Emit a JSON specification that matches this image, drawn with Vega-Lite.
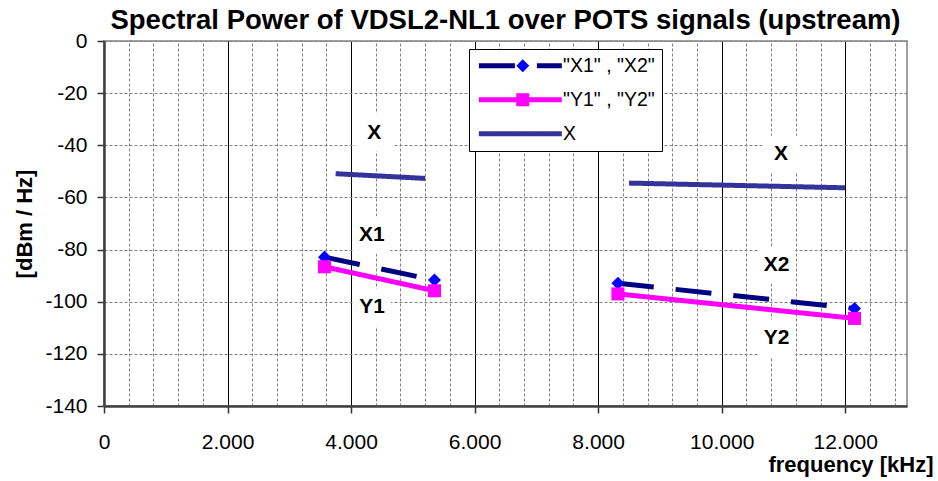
{
  "$schema": "https://vega.github.io/schema/vega-lite/v6.json",
  "width": 803,
  "height": 365,
  "autosize": {"type": "none"},
  "padding": {"left": 104, "top": 41, "right": 31, "bottom": 75},
  "background": "white",
  "title": {
    "text": "Spectral Power of VDSL2-NL1 over POTS signals (upstream)",
    "font": "Liberation Sans",
    "fontSize": 27.5,
    "fontWeight": "bold",
    "color": "black",
    "anchor": "middle",
    "frame": "group",
    "offset": -4
  },
  "datasets": {
    "lines": [
      {"series": "\"X1\" , \"X2\"", "seg": 1, "f": 3570, "p": -82.9},
      {"series": "\"X1\" , \"X2\"", "seg": 1, "f": 5350, "p": -91.7},
      {"series": "\"X1\" , \"X2\"", "seg": 2, "f": 8320, "p": -92.9},
      {"series": "\"X1\" , \"X2\"", "seg": 2, "f": 12150, "p": -102.6},
      {"series": "\"Y1\" , \"Y2\"", "seg": 1, "f": 3570, "p": -86.6},
      {"series": "\"Y1\" , \"Y2\"", "seg": 1, "f": 5350, "p": -95.8},
      {"series": "\"Y1\" , \"Y2\"", "seg": 2, "f": 8320, "p": -97.0},
      {"series": "\"Y1\" , \"Y2\"", "seg": 2, "f": 12150, "p": -106.4},
      {"series": "X", "seg": 1, "f": 3750, "p": -50.9},
      {"series": "X", "seg": 1, "f": 5200, "p": -52.7},
      {"series": "X", "seg": 2, "f": 8500, "p": -54.5},
      {"series": "X", "seg": 2, "f": 12000, "p": -56.3}
    ],
    "labels": [
      {"label": "X", "f": 4375, "p": -35.1},
      {"label": "X", "f": 10960, "p": -43.5},
      {"label": "X1", "f": 4335, "p": -74.4},
      {"label": "Y1", "f": 4340, "p": -102.2},
      {"label": "X2", "f": 10890, "p": -85.9},
      {"label": "Y2", "f": 10890, "p": -114.0}
    ]
  },
  "encoding": {
    "y": {
      "field": "p", "type": "quantitative",
      "scale": {"domain": [-140, 0], "nice": false, "zero": false},
      "axis": {
        "values": [0, -20, -40, -60, -80, -100, -120, -140],
        "grid": true, "gridColor": "#808080", "gridDash": [3, 2], "gridWidth": 1,
        "labelExpr": "datum.value + ''", "labelFlush": false,
        "labelFont": "Liberation Sans", "labelFontSize": 21, "labelColor": "black", "labelPadding": 10,
        "tickSize": 7, "tickColor": "#333333", "tickWidth": 1.5,
        "domainColor": "#404040", "domainWidth": 2.5,
        "title": "[dBm / Hz]", "titleFont": "Liberation Sans", "titleFontSize": 22, "titleFontWeight": "bold", "titleColor": "black",
        "titleAngle": -90, "titleX": -72.5, "titleY": 182.5, "titleAlign": "center", "titleBaseline": "alphabetic"
      }
    }
  },
  "layer": [
    {
      "data": {"name": "labels"},
      "mark": {"type": "square", "color": "white", "size": 1400, "opacity": 1},
      "encoding": {
        "x": {"field": "f", "type": "quantitative", "scale": {"domain": [0, 13000], "nice": false, "zero": false}, "axis": null}
      }
    },
    {
      "data": {"name": "lines"},
      "mark": {"type": "line", "strokeWidth": 5, "strokeCap": "butt"},
      "encoding": {
        "x": {
          "field": "f", "type": "quantitative",
          "axis": {
            "orient": "top",
            "values": [0,400,800,1200,1600,2000,2400,2800,3200,3600,4000,4400,4800,5200,5600,6000,6400,6800,7200,7600,8000,8400,8800,9200,9600,10000,10400,10800,11200,11600,12000,12400,12800],
            "grid": true, "gridColor": "#808080", "gridDash": [3, 2], "gridWidth": 1,
            "labels": false, "ticks": false, "domain": false, "title": null
          }
        },
        "detail": {"field": "seg"},
        "stroke": {
          "field": "series", "type": "nominal",
          "scale": {"domain": ["\"X1\" , \"X2\"", "\"Y1\" , \"Y2\"", "X"], "range": ["#000080", "#FF00FF", "#333399"]},
          "legend": {
            "orient": "none", "legendX": 365, "legendY": 8, "title": null,
            "symbolType": "M-6,0H6", "symbolSize": 191, "symbolStrokeWidth": 5, "symbolFillColor": "transparent",
            "symbolOffset": 34.6, "labelOffset": 33,
            "labelFont": "Liberation Sans", "labelFontSize": 19.5, "labelColor": "black",
            "rowPadding": 13, "padding": 7, "strokeColor": "black", "fillColor": "white", "zindex": 1
          }
        },
        "strokeDash": {
          "field": "series", "type": "nominal",
          "scale": {"domain": ["\"X1\" , \"X2\"", "\"Y1\" , \"Y2\"", "X"], "range": [[36, 22], [1, 0], [1, 0]]}
        }
      }
    },
    {
      "data": {"name": "lines"},
      "transform": [{"filter": "datum.series != 'X'"}],
      "mark": {"type": "point", "filled": true, "size": 170, "opacity": 1, "strokeWidth": 0},
      "encoding": {
        "x": {
          "field": "f", "type": "quantitative",
          "axis": {
            "orient": "bottom",
            "values": [0, 2000, 4000, 6000, 8000, 10000, 12000],
            "grid": true, "gridColor": "black", "gridWidth": 1,
            "labelExpr": "replace(format(datum.value, ','), ',', '.')", "labelFlush": false,
            "labelFont": "Liberation Sans", "labelFontSize": 21, "labelColor": "black", "labelPadding": 18,
            "tickSize": 7, "tickColor": "#333333", "tickWidth": 1.5,
            "domainColor": "#404040", "domainWidth": 2.5,
            "title": "frequency [kHz]", "titleFont": "Liberation Sans", "titleFontSize": 22, "titleFontWeight": "bold", "titleColor": "black",
            "titleX": 829, "titleY": 65, "titleAlign": "right", "titleBaseline": "alphabetic"
          }
        },
        "fill": {
          "field": "series", "type": "nominal",
          "scale": {"domain": ["\"X1\" , \"X2\"", "\"Y1\" , \"Y2\""], "range": ["#0000FF", "#FF00FF"]},
          "legend": {
            "orient": "none", "legendX": 402, "legendY": 8, "title": null,
            "symbolSize": 170, "symbolStrokeWidth": 0,
            "labelExpr": "''",
            "labelFont": "Liberation Sans", "labelFontSize": 19.5, "labelOpacity": 0,
            "rowPadding": 13, "padding": 7, "zindex": 2
          }
        },
        "shape": {
          "field": "series", "type": "nominal",
          "scale": {"domain": ["\"X1\" , \"X2\"", "\"Y1\" , \"Y2\""], "range": ["diamond", "square"]}
        }
      }
    },
    {
      "data": {"name": "labels"},
      "mark": {"type": "text", "font": "Liberation Sans", "fontSize": 21, "fontWeight": "bold", "color": "black", "align": "center", "baseline": "middle"},
      "encoding": {
        "x": {"field": "f", "type": "quantitative", "axis": null},
        "text": {"field": "label"}
      }
    }
  ],
  "resolve": {"axis": {"x": "independent"}},
  "config": {
    "view": {"stroke": "#a0a0a0", "strokeWidth": 2},
    "font": "Liberation Sans"
  }
}
